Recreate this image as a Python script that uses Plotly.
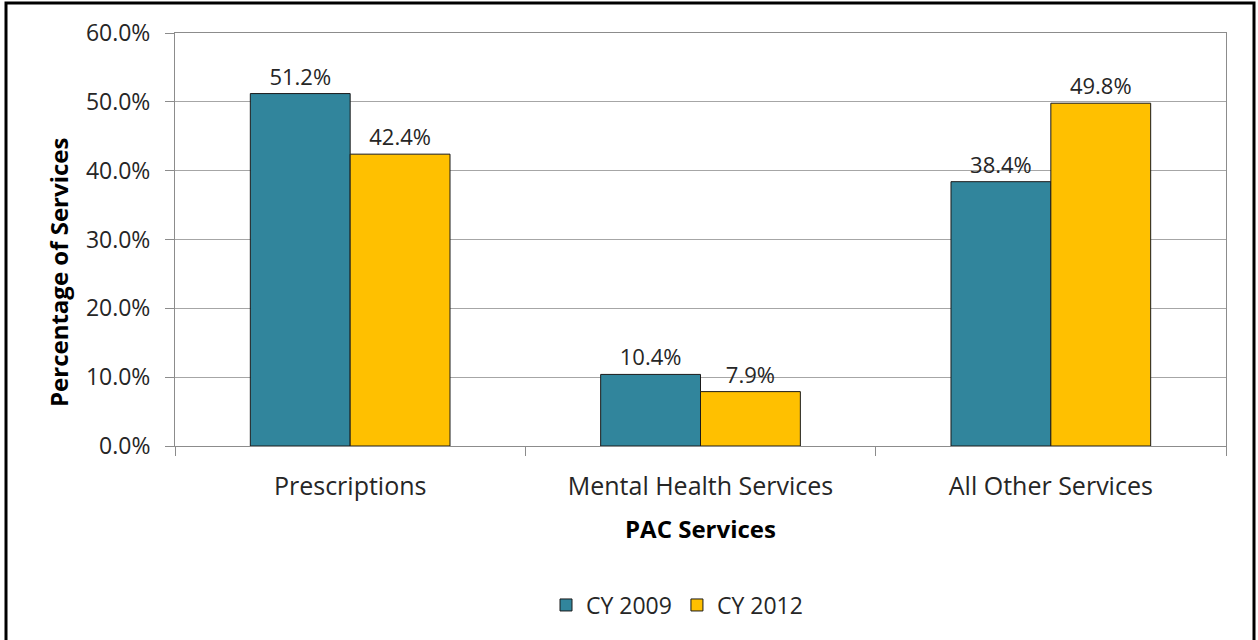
import plotly.graph_objects as go

# PAC service categories and their share of services per calendar year
categories = ["Prescriptions", "Mental Health Services", "All Other Services"]
cy2009 = [51.2, 10.4, 38.4]
cy2012 = [42.4, 7.9, 49.8]
series_names = ["CY 2009", "CY 2012"]
y_ticks = [0, 10, 20, 30, 40, 50, 60]
y_tick_labels = [f"{v:.1f}%" for v in y_ticks]

W, H = 1258, 640
ML, MR, MT, MB = 175, 32, 33, 194
FONT = "'Open Sans', sans-serif"
TXT = "#262626"

fig = go.Figure()
for name, vals, color in [(series_names[0], cy2009, "#31859C"),
                          (series_names[1], cy2012, "#FFC000")]:
    fig.add_trace(go.Bar(
        x=categories, y=vals, name=name,
        marker=dict(color=color, line=dict(color="#1a1a1a", width=1)),
        text=[f"{v:.1f}%" for v in vals], textposition="outside",
        textfont=dict(family=FONT, size=22, color=TXT),
        cliponaxis=False,
    ))

# outer frame around the whole chart, in plot-area (paper) coordinates
pw, ph = W - ML - MR, H - MT - MB
fig.add_shape(type="rect", xref="paper", yref="paper",
              x0=(6 - ML) / pw, x1=(1254 - ML) / pw,
              y0=(H - 645 - MB) / ph, y1=(H - 3 - MB) / ph,
              line=dict(color="black", width=3), fillcolor="rgba(0,0,0,0)",
              layer="above")

# vertical axis title
fig.add_annotation(text="<b>Percentage of Services</b>", textangle=-90,
                   xref="paper", yref="paper",
                   x=(58 - ML) / pw, y=(H - MB - 272) / ph,
                   xanchor="center", yanchor="middle", showarrow=False,
                   font=dict(family=FONT, size=24, color="black"))

fig.update_layout(
    width=W, height=H,
    margin=dict(l=ML, r=MR, t=MT, b=MB),
    paper_bgcolor="white", plot_bgcolor="white",
    barmode="group", bargap=0.43, bargroupgap=0,
    font=dict(family=FONT, color=TXT),
    showlegend=True,
    legend=dict(orientation="h", x=(677 - ML) / pw, xanchor="center",
                y=-0.385, yanchor="middle",
                font=dict(family=FONT, size=23, color=TXT),
                itemwidth=30, traceorder="normal"),
    xaxis=dict(
        type="category", tickson="boundaries", ticks="outside", ticklen=9,
        tickcolor="#8c8c8c", showgrid=False,
        showline=True, linecolor="#8c8c8c", linewidth=1, mirror=True,
        tickfont=dict(family=FONT, size=25, color=TXT),
        ticklabelstandoff=18,
        title=dict(text="<b>PAC Services</b>", standoff=20,
                   font=dict(family=FONT, size=24, color="black")),
    ),
    yaxis=dict(
        range=[0, 60], tickvals=y_ticks, ticktext=y_tick_labels,
        ticks="outside", ticklen=9, tickcolor="#8c8c8c",
        showgrid=True, gridcolor="#a6a6a6", gridwidth=1,
        showline=True, linecolor="#8c8c8c", linewidth=1, mirror=True,
        zeroline=False, ticklabelstandoff=10,
        tickfont=dict(family=FONT, size=23, color=TXT),
    ),
)

fig.write_html("out.html")
